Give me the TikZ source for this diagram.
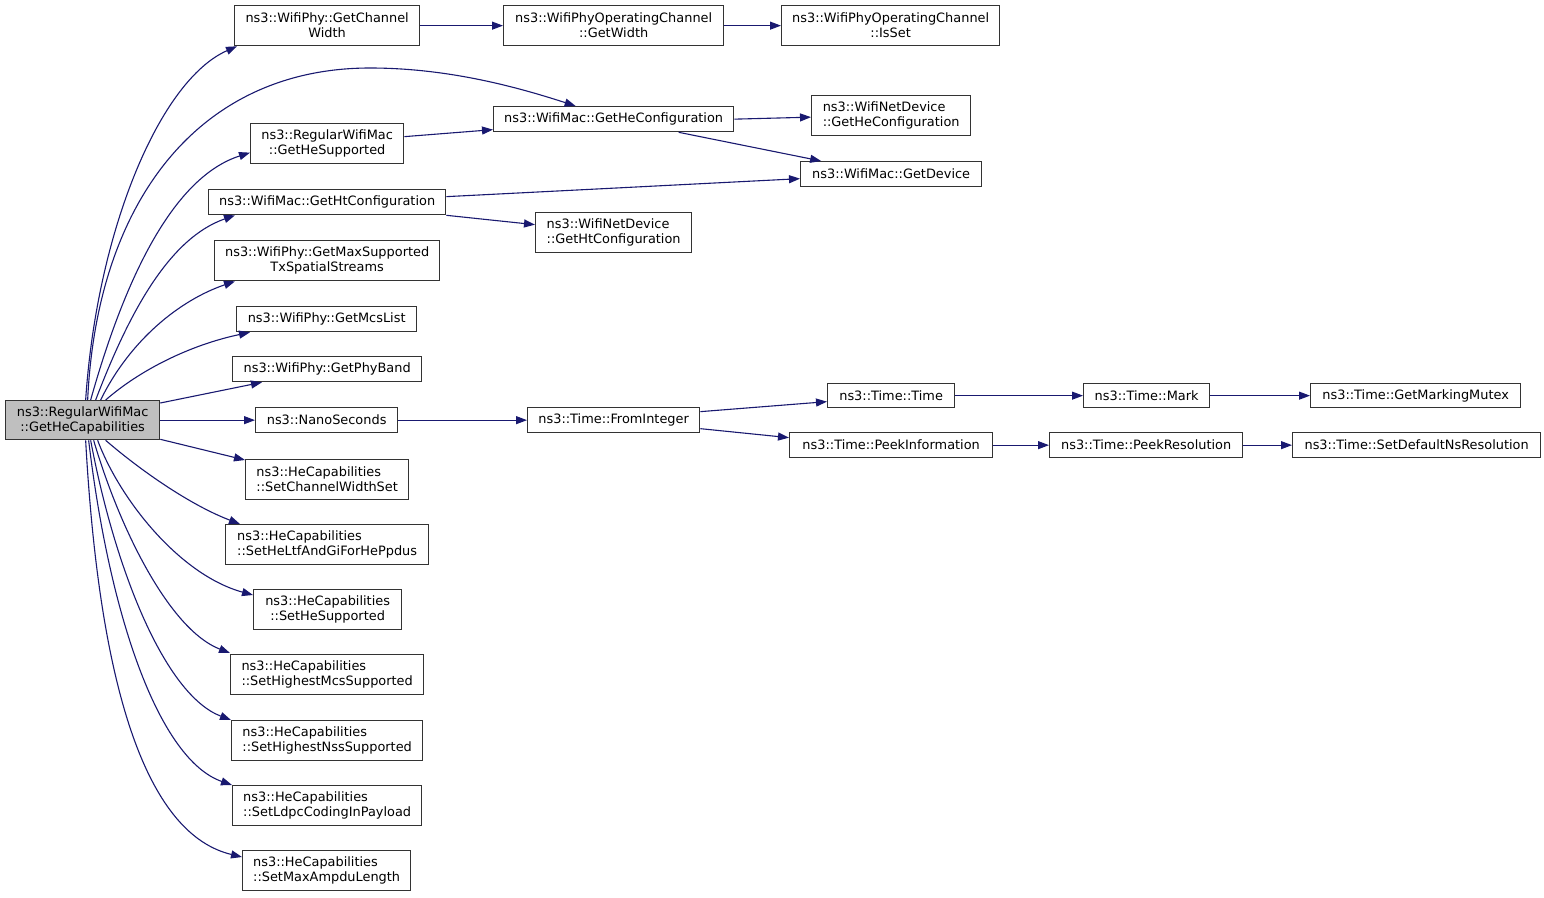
\documentclass[tikz,border=0pt]{standalone}
\usepackage{fontspec}
\setmainfont{DejaVu Sans}
\usetikzlibrary{arrows.meta}
\definecolor{edgec}{HTML}{191970}
\definecolor{boxc}{HTML}{333333}
\tikzset{
  box/.style={draw=boxc, line width=1.3pt, fill=white, inner sep=0pt, anchor=north west,
    font=\fontsize{12.9}{15}\selectfont, align=center},
  lbox/.style={box, align=left},
  mainbox/.style={box, fill=black!25},
  edge/.style={draw=edgec, line width=1.1pt, -{Triangle[length=11pt,width=8pt]}, color=edgec},
}
\begin{document}
\begin{tikzpicture}[x=1pt,y=-1pt]
\useasboundingbox[fill=white] (0,0) rectangle (1544,897);
% nodes
\node[mainbox, minimum width=154, minimum height=39] (main) at (5,400) {ns3::RegularWifiMac\\::GetHeCapabilities};
\node[box, minimum width=185, minimum height=40] (cw) at (234,5) {ns3::WifiPhy::GetChannel\\Width};
\node[box, minimum width=220, minimum height=40] (gw) at (503,5) {ns3::WifiPhyOperatingChannel\\::GetWidth};
\node[box, minimum width=218, minimum height=40] (isset) at (781,5) {ns3::WifiPhyOperatingChannel\\::IsSet};
\node[box, minimum width=240, minimum height=25] (hec) at (493,106) {ns3::WifiMac::GetHeConfiguration};
\node[lbox, minimum width=159, minimum height=40] (ndhe) at (811,95) {ns3::WifiNetDevice\\::GetHeConfiguration};
\node[box, minimum width=181, minimum height=25] (dev) at (800,161) {ns3::WifiMac::GetDevice};
\node[lbox, minimum width=156, minimum height=40] (ndht) at (535,212) {ns3::WifiNetDevice\\::GetHtConfiguration};
\node[box, minimum width=153, minimum height=40] (hes) at (250,123) {ns3::RegularWifiMac\\::GetHeSupported};
\node[box, minimum width=237, minimum height=25] (htc) at (208,189) {ns3::WifiMac::GetHtConfiguration};
\node[box, minimum width=225, minimum height=40] (mss) at (214,240) {ns3::WifiPhy::GetMaxSupported\\TxSpatialStreams};
\node[box, minimum width=180, minimum height=25] (mcs) at (236,306) {ns3::WifiPhy::GetMcsList};
\node[box, minimum width=189, minimum height=25] (band) at (232,356) {ns3::WifiPhy::GetPhyBand};
\node[box, minimum width=142, minimum height=25] (nano) at (255,407) {ns3::NanoSeconds};
\node[lbox, minimum width=163, minimum height=40] (cws) at (245,459) {ns3::HeCapabilities\\::SetChannelWidthSet};
\node[lbox, minimum width=203, minimum height=40] (ltf) at (225,524) {ns3::HeCapabilities\\::SetHeLtfAndGiForHePpdus};
\node[box, minimum width=148, minimum height=40] (shes) at (253,589) {ns3::HeCapabilities\\::SetHeSupported};
\node[lbox, minimum width=193, minimum height=40] (smcs) at (230,654) {ns3::HeCapabilities\\::SetHighestMcsSupported};
\node[lbox, minimum width=191, minimum height=40] (snss) at (231,720) {ns3::HeCapabilities\\::SetHighestNssSupported};
\node[lbox, minimum width=189, minimum height=40] (ldpc) at (232,785) {ns3::HeCapabilities\\::SetLdpcCodingInPayload};
\node[lbox, minimum width=168, minimum height=40] (ampdu) at (242,850) {ns3::HeCapabilities\\::SetMaxAmpduLength};
\node[box, minimum width=172, minimum height=25] (fi) at (527,407) {ns3::Time::FromInteger};
\node[box, minimum width=127, minimum height=24] (tt) at (827,383) {ns3::Time::Time};
\node[box, minimum width=126, minimum height=24] (mark) at (1083,383) {ns3::Time::Mark};
\node[box, minimum width=210, minimum height=24] (mutex) at (1310,383) {ns3::Time::GetMarkingMutex};
\node[box, minimum width=203, minimum height=25] (peek) at (789,432) {ns3::Time::PeekInformation};
\node[box, minimum width=193, minimum height=25] (pres) at (1049,432) {ns3::Time::PeekResolution};
\node[box, minimum width=248, minimum height=25] (sdns) at (1292,432) {ns3::Time::SetDefaultNsResolution};
% edges from main
\draw[edge] ([xshift=3]main.north) .. controls (97,230) and (160,80) .. ([xshift=3]cw.south west);
\draw[edge] ([xshift=5]main.north) .. controls (97,200) and (200,68) .. (370,68) .. controls (450,68) and (520,88) .. ([xshift=-38]hec.north);
\draw[edge] ([xshift=8]main.north) .. controls (130,260) and (180,175) .. ([yshift=-9]hes.west);
\draw[edge] ([xshift=13]main.north) .. controls (130,310) and (170,238) .. ([xshift=27]htc.south west);
\draw[edge] ([xshift=18]main.north) .. controls (130,340) and (180,300) .. ([xshift=21]mss.south west);
\draw[edge] ([xshift=23]main.north) .. controls (140,370) and (190,345) .. ([xshift=14]mcs.south west);
\draw[edge] ([yshift=-3]main.north east) -- ([xshift=30]band.south west);
\draw[edge] (main.east) -- (nano.west);
\draw[edge] ([yshift=1]main.south east) -- ([yshift=-1]cws.north west);
\draw[edge] ([xshift=23]main.south) .. controls (140,470) and (190,505) .. ([xshift=15]ltf.north west);
\draw[edge] ([xshift=15]main.south) .. controls (120,500) and (180,575) .. ([yshift=-6]shes.north west);
\draw[edge] ([xshift=11]main.south) .. controls (120,530) and (170,630) .. ([yshift=1]smcs.north west);
\draw[edge] ([xshift=8]main.south) .. controls (115,570) and (165,695) .. ([yshift=0]snss.north west);
\draw[edge] ([xshift=6]main.south) .. controls (110,620) and (160,760) .. ([yshift=0]ldpc.north west);
\draw[edge] ([xshift=3]main.south) .. controls (100,700) and (150,835) .. ([yshift=-7]ampdu.north west);
% other edges
\draw[edge] (cw.east) -- (gw.west);
\draw[edge] (gw.east) -- (isset.west);
\draw[edge] ([yshift=7]hes.east) -- ([yshift=-10.5]hec.west);
\draw[edge] (hec.east) -- ([yshift=-1.5]ndhe.west);
\draw[edge] ([xshift=65]hec.south) -- ([xshift=-70]dev.north);
\draw[edge] ([yshift=5.5]htc.east) -- ([yshift=-4.5]dev.west);
\draw[edge] (htc.south east) -- ([yshift=8]ndht.west);
\draw[edge] (nano.east) -- (fi.west);
\draw[edge] ([yshift=8.5]fi.east) -- ([yshift=-6]tt.west);
\draw[edge] ([yshift=-8.5]fi.east) -- ([yshift=7.5]peek.west);
\draw[edge] (tt.east) -- (mark.west);
\draw[edge] (mark.east) -- (mutex.west);
\draw[edge] (peek.east) -- (pres.west);
\draw[edge] (pres.east) -- (sdns.west);
\end{tikzpicture}
\end{document}
